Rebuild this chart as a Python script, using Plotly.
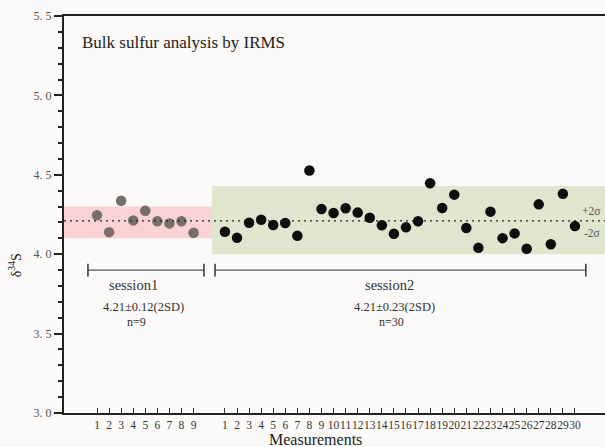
import plotly.graph_objects as go

# ---- data ----
session1_values = [4.245, 4.139, 4.337, 4.213, 4.274, 4.207, 4.194, 4.207, 4.135]
session2_values = [4.141, 4.103, 4.198, 4.217, 4.184, 4.196, 4.116, 4.527, 4.285, 4.259,
                   4.289, 4.262, 4.230, 4.182, 4.129, 4.169, 4.207, 4.447, 4.291, 4.375,
                   4.165, 4.040, 4.268, 4.101, 4.131, 4.034, 4.314, 4.063, 4.380, 4.177]
session1_labels = [str(i) for i in range(1, 10)]
session2_labels = [str(i) for i in range(1, 31)]
mean_value = 4.21
session1_band = [4.10, 4.30]
session2_band = [4.00, 4.43]
session1_stats = "4.21±0.12(2SD)"
session2_stats = "4.21±0.23(2SD)"
y_ticks = [3.0, 3.5, 4.0, 4.5, 5.0, 5.5]
y_ticktext = ["3. 0", "3. 5", "4. 0", "4. 5", "5. 0", "5. 5"]

# ---- positions ----
gap = 10.6
x1 = [i for i in range(1, len(session1_values) + 1)]
x2 = [i + gap for i in range(1, len(session2_values) + 1)]
xrange_ = [-1.734, 43.09]
split_x = 10.53

FONT = "Liberation Serif, Times New Roman, serif"
BG = "#fbfaf8"

fig = go.Figure()
fig.add_trace(go.Scatter(x=x1, y=session1_values, mode="markers",
                         marker=dict(size=10.5, color="#776e6a"), showlegend=False))
fig.add_trace(go.Scatter(x=x2, y=session2_values, mode="markers",
                         marker=dict(size=10.5, color="#0d0d0d"), showlegend=False))

shapes = [
    dict(type="rect", xref="x", yref="y", x0=xrange_[0], x1=split_x,
         y0=session1_band[0], y1=session1_band[1], fillcolor="#f9d3d3",
         line=dict(width=0), layer="below"),
    dict(type="rect", xref="x", yref="y", x0=split_x, x1=xrange_[1],
         y0=session2_band[0], y1=session2_band[1], fillcolor="#dfe6cd",
         line=dict(width=0), layer="below"),
    dict(type="line", xref="paper", yref="y", x0=0, x1=1, y0=mean_value, y1=mean_value,
         line=dict(color="#222", width=1.2, dash="2px,4px")),
]
bracket_y = 3.9
cap = 0.04
for xa, xb in [(0.25, 9.86), (10.78, 41.5)]:
    shapes.append(dict(type="line", xref="x", yref="y", x0=xa, x1=xb, y0=bracket_y, y1=bracket_y,
                       line=dict(color="#555", width=1.2)))
    for xc in (xa, xb):
        shapes.append(dict(type="line", xref="x", yref="y", x0=xc, x1=xc,
                           y0=bracket_y - cap, y1=bracket_y + cap,
                           line=dict(color="#333", width=1.5)))

ann = []
def txt(x, y, s, size=14, xanchor="center", color="#333", xref="x", yref="y"):
    ann.append(dict(x=x, y=y, xref=xref, yref=yref, text=s, showarrow=False,
                    xanchor=xanchor, yanchor="middle",
                    font=dict(family=FONT, size=size, color=color)))

txt(4.02, 3.804, "session1", 14.5)
txt(4.85, 3.665, session1_stats, 12.5)
txt(4.29, 3.572, "n=9", 12)
txt(25.27, 3.804, "session2", 14.5)
txt(25.68, 3.665, session2_stats, 12.5)
txt(25.4, 3.572, "n=30", 12)
txt(0.997, 4.27, "+2σ", 11.5, xanchor="right", color="#555", xref="paper")
txt(0.997, 4.132, "-2σ", 11.5, xanchor="right", color="#555", xref="paper")
ann.append(dict(x=0.03, y=0.934, xref="paper", yref="paper", text="Bulk sulfur analysis by IRMS",
                showarrow=False, xanchor="left", yanchor="middle",
                font=dict(family=FONT, size=17, color="#222")))
ann.append(dict(x=(315 - 64) / 541, y=-26 / 397, xref="paper", yref="paper", text="Measurements",
                showarrow=False, xanchor="center", yanchor="middle",
                font=dict(family=FONT, size=16, color="#222")))
ann.append(dict(x=-49 / 541, y=(412.7 - 265) / 397, xref="paper", yref="paper",
                text="δ<sup>34</sup>S", showarrow=False, textangle=-90,
                xanchor="center", yanchor="middle",
                font=dict(family=FONT, size=14, color="#222")))

fig.update_layout(
    width=605, height=447,
    margin=dict(l=64, r=0, t=16, b=34, autoexpand=False),
    paper_bgcolor=BG, plot_bgcolor=BG,
    shapes=shapes, annotations=ann,
    xaxis=dict(range=xrange_, tickvals=x1 + x2, ticktext=session1_labels + session2_labels,
               ticks="inside", ticklen=5, tickcolor="#333", tickwidth=1,
               showgrid=False, zeroline=False, showline=True, linecolor="#222", linewidth=2,
               mirror=True, tickangle=0, automargin=False,
               tickfont=dict(family=FONT, size=11.5, color="#333")),
    yaxis=dict(range=[3.0, 5.5], tickvals=y_ticks, ticktext=y_ticktext,
               ticks="outside", ticklen=8, tickcolor="#222", tickwidth=1.5,
               minor=dict(dtick=0.1, tick0=3.0, ticks="outside", ticklen=4, tickcolor="#222",
                          tickwidth=1.5, showgrid=False),
               showgrid=False, zeroline=False, showline=True, linecolor="#222", linewidth=2,
               automargin=False,
               tickfont=dict(family=FONT, size=12, color="#555")),
)
fig.write_html("out.html", config={"displayModeBar": False},
               post_script="document.body.style.margin='0';document.body.style.padding='0';")
